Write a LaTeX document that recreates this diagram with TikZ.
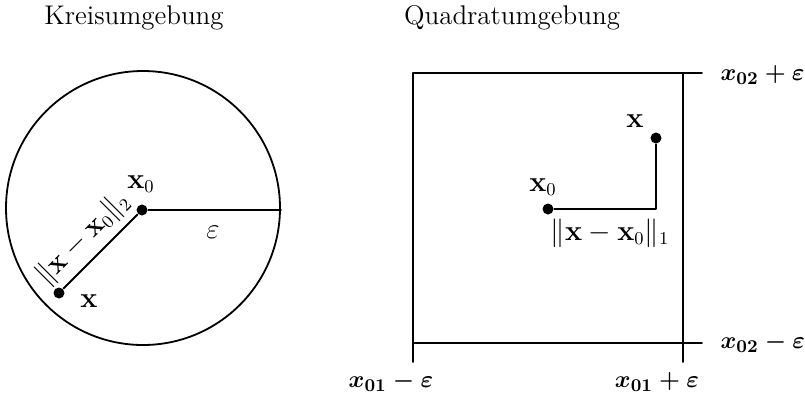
\documentclass[tikz,border=0pt]{standalone}
\usepackage{amsmath,amssymb}
\usepackage{tikz}

\begin{document}
\begin{tikzpicture}[
  x={(0.5pt,0pt)},
  y={(0pt,-0.5pt)},
  line width=0.9pt,
  line cap=round,
  line join=round,
  font=\fontsize{13.5}{16}\selectfont,
  dot/.style={circle,fill,inner sep=0pt,minimum size=5.5pt},
  grenze/.style={font=\fontsize{12.3}{15}\selectfont\boldmath}
]
  \useasboundingbox (0,0) rectangle (805,398);

  \node (kreis) at (134,18) {Kreisumgebung};
  \node (quadrat) at (512,18) {Quadratumgebung};

  \node[circle,draw,inner sep=0pt,minimum size=137pt] (rand) at (143,208) {};
  \node[dot] (kxnull) at (142,210) {};
  \node[dot] (kx) at (59,293) {};
  \coordinate (kend) at (kxnull -| rand.east);
  \draw (kxnull) -- (kend);
  \draw (kx) -- node[pos=0.47,above,sloped,inner sep=3pt] {$\|\mathbf{x}-\mathbf{x}_0\|_2$} (kxnull);
  \node at (141,184) {$\mathbf{x}_0$};
  \node at (89,301) {$\mathbf{x}$};
  \node at (213,232) {$\varepsilon$};

  \draw (413,362) -- (413,73) -- (702,73);
  \draw (683,73) -- (683,362);
  \draw (413,343) -- (702,343);
  \node[grenze,anchor=west] at (713,75) {$x_{02}+\varepsilon$};
  \node[grenze,anchor=west] at (713,343) {$x_{02}-\varepsilon$};
  \node[grenze] at (391,382) {$x_{01}-\varepsilon$};
  \node[grenze] at (657,382) {$x_{01}+\varepsilon$};

  \node[dot] (qxnull) at (548,209) {};
  \node[dot] (qx) at (656,138) {};
  \coordinate (qecke) at (qx |- qxnull);
  \draw (qxnull) -- (qecke) -- (qx);
  \node at (543,187) {$\mathbf{x}_0$};
  \node at (635,121) {$\mathbf{x}$};
  \node at (610,233) {$\|\mathbf{x}-\mathbf{x}_0\|_1$};
\end{tikzpicture}
\end{document}
